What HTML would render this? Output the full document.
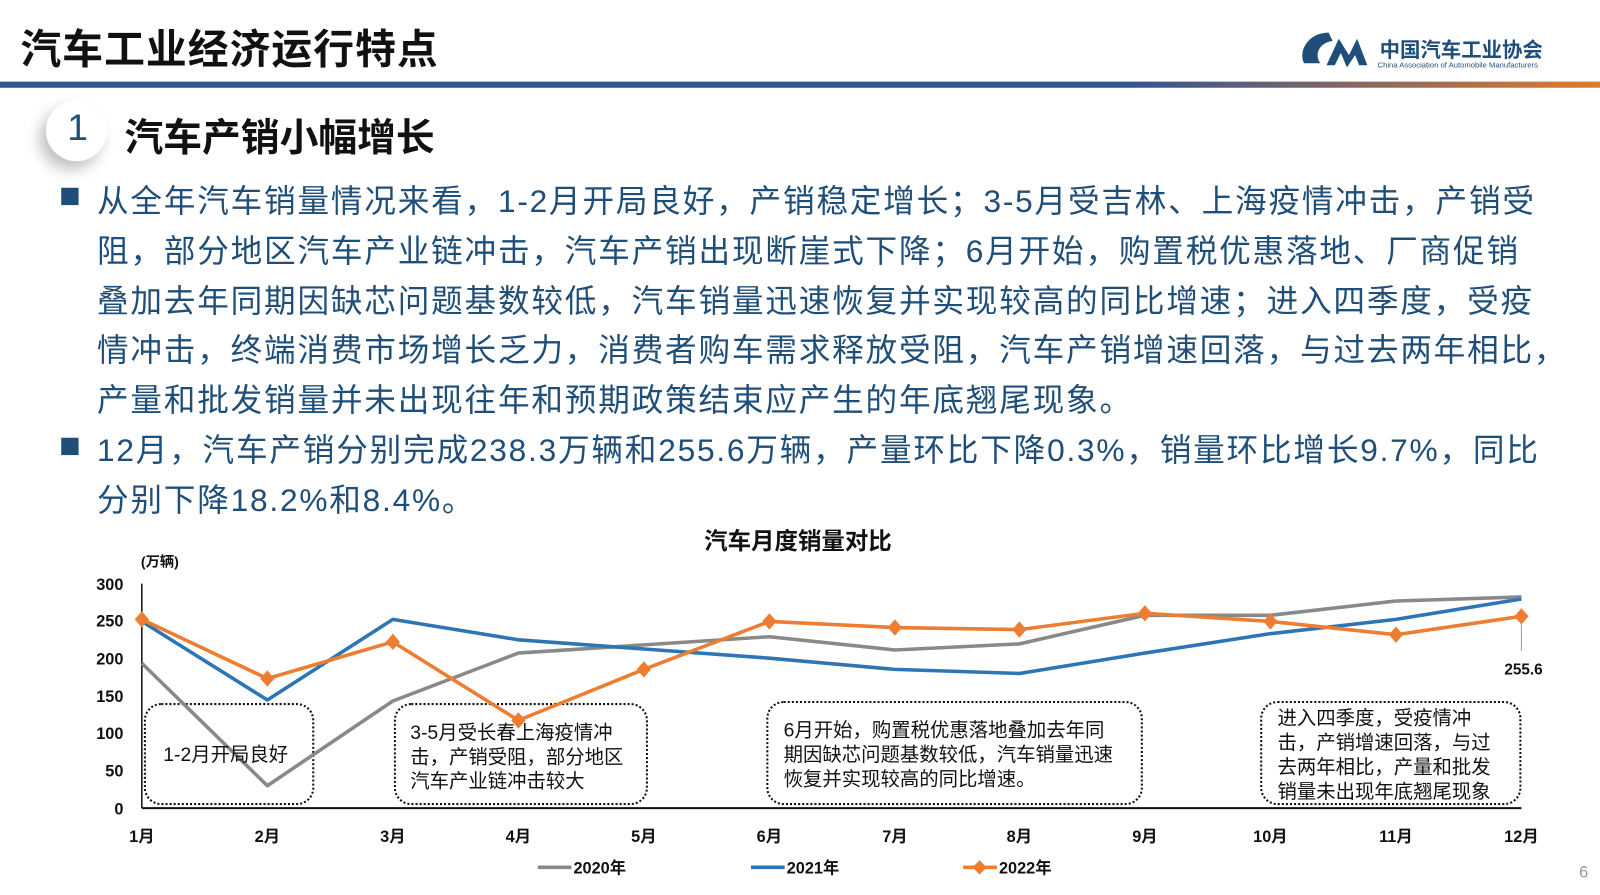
<!DOCTYPE html>
<html><head><meta charset="utf-8"><style>
body{margin:0;width:1600px;height:895px;background:#fff;position:relative;overflow:hidden;font-family:"Liberation Sans","Noto Sans CJK SC",sans-serif;}
#w{position:absolute;left:0;top:0;width:1568px;height:877px;transform:scale(1.0204);transform-origin:0 0}
.t{position:absolute;white-space:nowrap}
.body{color:#1f4e79;font-size:31px;left:95px;letter-spacing:1.75px}
.sq{position:absolute;width:17px;height:17px;background:#1f4e79}
</style></head><body><div id="w">
<div class="t" style="left:20px;top:16px;font-size:40px;font-weight:bold;color:#111;letter-spacing:1px">汽车工业经济运行特点</div>
<div class="t" style="left:1352px;top:33px;font-size:20px;font-weight:bold;color:#1f4e79">中国汽车工业协会</div>
<div class="t" style="left:1350px;top:59px;font-size:7.5px;color:#1f4e79">China Association of Automobile Manufacturers</div>
<svg style="position:absolute;left:1270px;top:30px" width="80" height="38"><path d="M32 2 C12 2 2 20 8 32 L24 32 C18 24 22 12 36 10 Z" fill="#1f4e79"/><path d="M30 34 L42 8 L52 24 L60 8 L70 34 L62 34 L58 24 L50 36 L44 22 L38 34Z" fill="#1f4e79"/></svg>
<div style="position:absolute;left:0;top:80px;width:1568px;height:6px;background:linear-gradient(90deg,#2f5597 0%,#2f5597 70%,#e07b2a 100%)"></div>
<div style="position:absolute;left:45px;top:98px;width:60px;height:60px;border-radius:50%;background:#fff;box-shadow:-6px 8px 14px rgba(0,0,0,0.25)"></div>
<div class="t" style="left:66px;top:104px;font-size:36px;color:#1f4e79">1</div>
<div class="t" style="left:122px;top:104px;font-size:38px;font-weight:bold;color:#111">汽车产销小幅增长</div>
<div class="sq" style="left:60px;top:184px"></div>
<div class="sq" style="left:60px;top:429px"></div>
<div class="t body" style="top:172px">从全年汽车销量情况来看，1-2月开局良好，产销稳定增长；3-5月受吉林、上海疫情冲击，产销受</div>
<div class="t body" style="top:221px">阻，部分地区汽车产业链冲击，汽车产销出现断崖式下降；6月开始，购置税优惠落地、厂商促销</div>
<div class="t body" style="top:270px">叠加去年同期因缺芯问题基数较低，汽车销量迅速恢复并实现较高的同比增速；进入四季度，受疫</div>
<div class="t body" style="top:318px">情冲击，终端消费市场增长乏力，消费者购车需求释放受阻，汽车产销增速回落，与过去两年相比，</div>
<div class="t body" style="top:367px">产量和批发销量并未出现往年和预期政策结束应产生的年底翘尾现象。</div>
<div class="t body" style="top:416px">12月，汽车产销分别完成238.3万辆和255.6万辆，产量环比下降0.3%，销量环比增长9.7%，同比</div>
<div class="t body" style="top:465px">分别下降18.2%和8.4%。</div>
<svg style="position:absolute;left:0;top:0" width="1568" height="877" font-family="Liberation Sans,Noto Sans CJK SC,sans-serif">
<text x="782" y="538" font-size="23" font-weight="bold" text-anchor="middle" fill="#111">汽车月度销量对比</text>
<text x="138" y="555" font-size="14" font-weight="bold" fill="#111">(万辆)</text>
<g font-size="16" font-weight="bold" fill="#111" text-anchor="end">
<text x="121" y="578">300</text><text x="121" y="614">250</text><text x="121" y="651">200</text><text x="121" y="688">150</text><text x="121" y="724">100</text><text x="121" y="761">50</text><text x="121" y="798">0</text></g>
<line x1="139" y1="572" x2="139" y2="792" stroke="#111" stroke-width="1.5"/>
<line x1="139" y1="792" x2="1491" y2="792" stroke="#111" stroke-width="2"/>
<g font-size="16" font-weight="bold" fill="#111" text-anchor="middle">
<text x="139" y="825">1月</text><text x="262" y="825">2月</text><text x="385" y="825">3月</text><text x="508" y="825">4月</text><text x="631" y="825">5月</text><text x="754" y="825">6月</text><text x="877" y="825">7月</text><text x="999" y="825">8月</text><text x="1122" y="825">9月</text><text x="1245" y="825">10月</text><text x="1368" y="825">11月</text><text x="1491" y="825">12月</text></g>
<g fill="#fff" stroke="#111" stroke-width="2" stroke-dasharray="2 2">
<rect x="142" y="690" width="165" height="98" rx="16"/>
<rect x="387" y="690" width="247" height="98" rx="16"/>
<rect x="752" y="688" width="367" height="100" rx="16"/>
<rect x="1236" y="688" width="254" height="100" rx="16"/></g>
<g fill="none" stroke-width="3.5" stroke-linejoin="round">
<polyline stroke="#898989" points="139,650 262,770 385,687 508,640 631,632 754,624 877,637 999,631 1122,603 1245,603 1368,589 1491,585"/>
<polyline stroke="#2e75b6" points="139,609 262,686 385,607 508,627 631,636 754,645 877,656 999,660 1122,640 1245,621 1368,607 1491,587"/>
<polyline stroke="#ed7d31" points="139,607 262,665 385,629 508,706 631,656 754,609 877,615 999,617 1122,601 1245,609 1368,622 1491,604"/>
</g>
<g fill="#ed7d31">
<path d="M139 599l7 8-7 8-7-8z"/><path d="M262 657l7 8-7 8-7-8z"/><path d="M385 621l7 8-7 8-7-8z"/><path d="M508 698l7 8-7 8-7-8z"/><path d="M631 648l7 8-7 8-7-8z"/><path d="M754 601l7 8-7 8-7-8z"/><path d="M877 607l7 8-7 8-7-8z"/><path d="M999 609l7 8-7 8-7-8z"/><path d="M1122 593l7 8-7 8-7-8z"/><path d="M1245 601l7 8-7 8-7-8z"/><path d="M1368 614l7 8-7 8-7-8z"/><path d="M1491 596l7 8-7 8-7-8z"/></g>
<line x1="1491" y1="612" x2="1491" y2="638" stroke="#999"/>
<text x="1493" y="661" font-size="15" font-weight="bold" fill="#111" text-anchor="middle">255.6</text>
<g font-size="19" fill="#111">
<text x="160" y="746">1-2月开局良好</text>
<text x="402" y="724">3-5月受长春上海疫情冲</text><text x="402" y="748">击，产销受阻，部分地区</text><text x="402" y="772">汽车产业链冲击较大</text>
<text x="768" y="722">6月开始，购置税优惠落地叠加去年同</text><text x="768" y="746">期因缺芯问题基数较低，汽车销量迅速</text><text x="768" y="770">恢复并实现较高的同比增速。</text>
<text x="1252" y="710">进入四季度，受疫情冲</text><text x="1252" y="734">击，产销增速回落，与过</text><text x="1252" y="758">去两年相比，产量和批发</text><text x="1252" y="782">销量未出现年底翘尾现象</text></g>
<line x1="527" y1="850" x2="560" y2="850" stroke="#898989" stroke-width="3.5"/>
<text x="562" y="856" font-size="16" font-weight="bold" fill="#111">2020年</text>
<line x1="736" y1="850" x2="769" y2="850" stroke="#2e75b6" stroke-width="3.5"/>
<text x="771" y="856" font-size="16" font-weight="bold" fill="#111">2021年</text>
<line x1="944" y1="850" x2="977" y2="850" stroke="#ed7d31" stroke-width="3.5"/>
<path d="M960 843l7 7-7 7-7-7z" fill="#ed7d31"/>
<text x="979" y="856" font-size="16" font-weight="bold" fill="#111">2022年</text>
<text x="1552" y="860" font-size="16" fill="#999" text-anchor="middle">6</text>
</svg>
</div></body></html>
